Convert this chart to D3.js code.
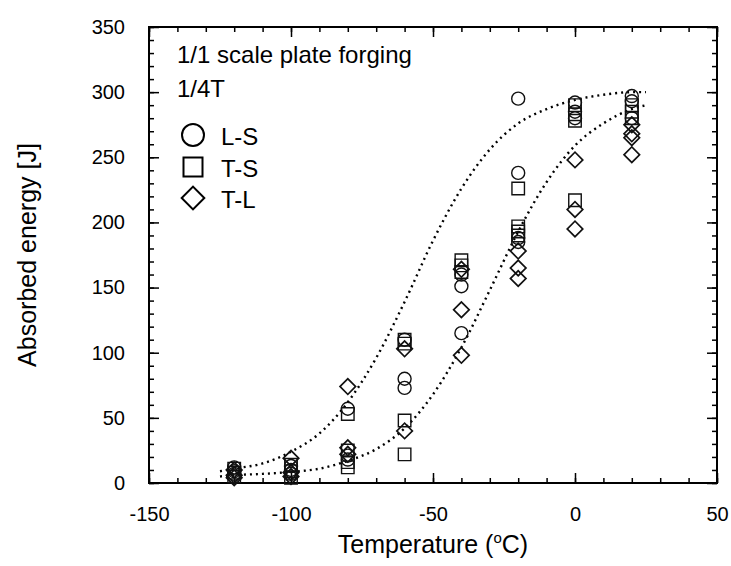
<!DOCTYPE html>
<html>
<head>
<meta charset="utf-8">
<script src="https://cdn.jsdelivr.net/npm/d3@7"></script>
<style>
  body { margin: 0; background: #fff; }
  text { font-family: "Liberation Sans", Arial, sans-serif; fill: #000; }
</style>
</head>
<body>
<div id="chart"></div>
<script>
// measured points [temperature, absorbed energy]
const lsPoints = [
  [-120, 12], [-120, 9], [-120, 7],
  [-100, 13], [-100, 10], [-100, 7],
  [-80, 57], [-80, 21], [-80, 18],
  [-60, 110], [-60, 80], [-60, 73],
  [-40, 160], [-40, 151], [-40, 115],
  [-20, 295], [-20, 238], [-20, 188], [-20, 185],
  [0, 292], [0, 285], [0, 280],
  [20, 297], [20, 293], [20, 280]
];
const tsPoints = [
  [-120, 11], [-120, 8], [-120, 5],
  [-100, 14], [-100, 9], [-100, 4],
  [-80, 53], [-80, 25], [-80, 16], [-80, 12],
  [-60, 110], [-60, 107], [-60, 48], [-60, 22],
  [-40, 171], [-40, 167], [-40, 162],
  [-20, 226], [-20, 197], [-20, 193], [-20, 190],
  [0, 290], [0, 283], [0, 278], [0, 217],
  [20, 290], [20, 285], [20, 280]
];
const tlPoints = [
  [-120, 10], [-120, 6], [-120, 4],
  [-100, 19], [-100, 8], [-100, 5],
  [-80, 74], [-80, 27], [-80, 22],
  [-60, 103], [-60, 40],
  [-40, 164], [-40, 133], [-40, 98],
  [-20, 178], [-20, 165], [-20, 157],
  [0, 248], [0, 210], [0, 195],
  [20, 275], [20, 268], [20, 265], [20, 252]
];

// dotted fit curves
const curveTemps = [-125, -120, -110, -100, -90, -80, -70, -60, -50, -40, -30, -20, -10, 0, 10, 20, 25];
const curveUpper = [9, 11, 15, 24, 38, 62, 96, 139, 186, 226, 256, 276, 287, 294, 298, 300, 300];
const curveLower = [5, 6, 7, 8.5, 11, 17, 26, 42, 68, 104, 148, 193, 231, 259, 276, 287, 290];

const xMajor = [-150, -100, -50, 0, 50];
const yMajor = [0, 50, 100, 150, 200, 250, 300, 350];

const W = 731, H = 566;
const margin = { top: 27, right: 14, bottom: 83, left: 149 };
const width = W - margin.left - margin.right;
const height = H - margin.top - margin.bottom;

const svg = d3.select("#chart").append("svg")
  .attr("width", W)
  .attr("height", H);

const g = svg.append("g")
  .attr("transform", `translate(${margin.left},${margin.top})`);

const x = d3.scaleLinear().domain([-150, 50]).range([0, width]);
const y = d3.scaleLinear().domain([0, 350]).range([height, 0]);

const minorX = d3.range(-150, 51, 10);
const minorY = d3.range(0, 351, 10);

// ticks on all four sides, pointing inward
function tickAxis(axisFn, scale, values, len, labels) {
  return axisFn(scale).tickValues(values).tickSizeInner(-len).tickSizeOuter(0)
    .tickPadding(labels ? 14 + len : 0)
    .tickFormat(labels ? (d => String(d)) : "");
}

function styleAxis(sel) {
  sel.select(".domain").remove();
  sel.selectAll("line").attr("stroke", "#000").attr("stroke-width", 1.5);
  sel.selectAll("text").style("font-size", "20px").style("font-family", '"Liberation Sans", Arial, sans-serif');
}

g.append("g").attr("transform", `translate(0,${height})`)
  .call(tickAxis(d3.axisBottom, x, minorX, 5, false)).call(styleAxis);
g.append("g").attr("transform", `translate(0,${height})`)
  .call(tickAxis(d3.axisBottom, x, xMajor, 10, true)).call(styleAxis);
g.append("g")
  .call(tickAxis(d3.axisTop, x, minorX, 5, false)).call(styleAxis);
g.append("g")
  .call(tickAxis(d3.axisTop, x, xMajor, 10, false)).call(styleAxis);

g.append("g")
  .call(tickAxis(d3.axisLeft, y, minorY, 5, false)).call(styleAxis);
g.append("g")
  .call(tickAxis(d3.axisLeft, y, yMajor, 10, true)).call(styleAxis);
g.append("g").attr("transform", `translate(${width},0)`)
  .call(tickAxis(d3.axisRight, y, minorY, 5, false)).call(styleAxis);
g.append("g").attr("transform", `translate(${width},0)`)
  .call(tickAxis(d3.axisRight, y, yMajor, 10, false)).call(styleAxis);

// frame
g.append("rect")
  .attr("width", width)
  .attr("height", height)
  .attr("fill", "none")
  .attr("stroke", "#000")
  .attr("stroke-width", 2);

// fit curves
const line = d3.line()
  .x(d => x(d[0]))
  .y(d => y(d[1]))
  .curve(d3.curveMonotoneX);

[curveUpper, curveLower].forEach(vals => {
  g.append("path")
    .datum(curveTemps.map((t, i) => [t, vals[i]]))
    .attr("d", line)
    .attr("fill", "none")
    .attr("stroke", "#000")
    .attr("stroke-width", 2.4)
    .attr("stroke-dasharray", "2,4");
});

// markers
const symCircle = d3.symbol().type(d3.symbolCircle);
const symSquare = d3.symbol().type(d3.symbolSquare);
const symDiamond = d3.symbol().type(d3.symbolSquare);

function drawMarkers(data, kind) {
  const sel = g.append("g").selectAll("path")
    .data(data)
    .enter()
    .append("path")
    .attr("fill", "none")
    .attr("stroke", "#111")
    .attr("stroke-width", 1.4);
  if (kind === "circle") {
    sel.attr("d", symCircle.size(Math.PI * 6.5 * 6.5)())
      .attr("transform", d => `translate(${x(d[0])},${y(d[1])})`);
  } else if (kind === "square") {
    sel.attr("d", symSquare.size(12.5 * 12.5)())
      .attr("transform", d => `translate(${x(d[0])},${y(d[1])})`);
  } else {
    sel.attr("d", symDiamond.size(11 * 11)())
      .attr("transform", d => `translate(${x(d[0])},${y(d[1])}) rotate(45)`)
      .attr("stroke-width", 1.7);
  }
}

drawMarkers(lsPoints, "circle");
drawMarkers(tsPoints, "square");
drawMarkers(tlPoints, "diamond");

// legend / annotation
const legend = svg.append("g");
legend.append("text").attr("x", 177).attr("y", 63)
  .style("font-size", "24px").text("1/1 scale plate forging");
legend.append("text").attr("x", 177).attr("y", 97)
  .style("font-size", "24px").text("1/4T");

const legendItems = [
  { label: "L-S", kind: "circle", y: 135 },
  { label: "T-S", kind: "square", y: 167 },
  { label: "T-L", kind: "diamond", y: 198 }
];
legendItems.forEach(it => {
  const p = legend.append("path")
    .attr("fill", "none")
    .attr("stroke", "#000")
    .attr("stroke-width", 2);
  if (it.kind === "circle") {
    p.attr("d", symCircle.size(Math.PI * 11 * 11)()).attr("transform", `translate(193,${it.y})`);
  } else if (it.kind === "square") {
    p.attr("d", symSquare.size(19 * 19)()).attr("transform", `translate(193,${it.y})`);
  } else {
    p.attr("d", symDiamond.size(16 * 16)()).attr("transform", `translate(193,${it.y}) rotate(45)`);
  }
  legend.append("text").attr("x", 221).attr("y", it.y + 10)
    .style("font-size", "24px").text(it.label);
});

// axis titles
const xTitle = svg.append("text")
  .attr("x", margin.left + width / 2)
  .attr("y", 553)
  .attr("text-anchor", "middle")
  .style("font-size", "25px");
xTitle.append("tspan").text("Temperature (");
xTitle.append("tspan").attr("dy", -10).style("font-size", "15px").text("o");
xTitle.append("tspan").attr("dy", 10).text("C)");

svg.append("text")
  .attr("transform", `translate(36,${margin.top + height / 2}) rotate(-90)`)
  .attr("text-anchor", "middle")
  .style("font-size", "25px")
  .text("Absorbed energy [J]");
</script>
</body>
</html>
